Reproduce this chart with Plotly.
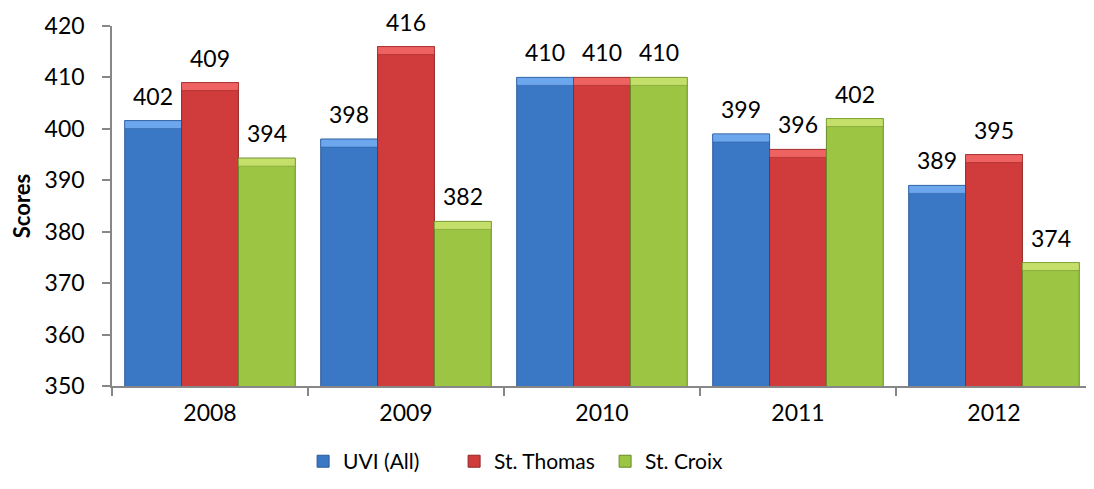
import plotly.graph_objects as go

years = ["2008", "2009", "2010", "2011", "2012"]
uvi_all = [401.6, 398, 410, 399, 389]
st_thomas = [409, 416, 410, 396, 395]
st_croix = [394.3, 382, 410, 402, 374]

series = [
    ("UVI (All)", uvi_all, "#3A77C4", "#6CA6EC", "#2A5A9A"),
    ("St. Thomas", st_thomas, "#D03B3B", "#EE6262", "#942626"),
    ("St. Croix", st_croix, "#9BC542", "#C4E06A", "#6A8A2A"),
]

FONT = "Lato, 'Open Sans', sans-serif"
BEVEL = 1.55  # height of lighter top strip, in axis units (style)

fig = go.Figure()
for i, (name, vals, col, light, edge) in enumerate(series):
    fig.add_trace(go.Bar(
        x=years, y=vals, name=name, offsetgroup=str(i),
        marker=dict(color=col, line=dict(color=edge, width=1)),
    ))
    fig.add_trace(go.Bar(
        x=years, y=[BEVEL] * len(vals), base=[v - BEVEL for v in vals],
        offsetgroup=str(i), showlegend=False, hoverinfo="skip",
        marker=dict(color=light, line=dict(color=edge, width=0.5)),
    ))

# data labels above bars (x given as category index)
n = len(series)
for i, (name, vals, col, light, edge) in enumerate(series):
    for j, v in enumerate(vals):
        fig.add_annotation(
            x=j, y=v, xref="x", yref="y", text=f"{v:.0f}", showarrow=False,
            xshift=(i - (n - 1) / 2) * 56.8, yshift=25,
            font=dict(size=23, family=FONT, color="#000000"),
        )

fig.update_layout(
    width=1086, height=481,
    margin=dict(l=104, r=2, t=18, b=103),
    paper_bgcolor="white", plot_bgcolor="white",
    barmode="group", bargap=0.13, bargroupgap=0,
    font=dict(family=FONT, size=21, color="#000000"),
    showlegend=True,
    legend=dict(orientation="h", x=0.195, xanchor="left", y=-0.153, yanchor="top",
                font=dict(size=21), traceorder="normal", entrywidth=106),
)
fig.update_xaxes(
    type="category", categoryorder="array", categoryarray=years,
    range=[-0.5, len(years) - 0.5],
    automargin=False,
    showline=True, linecolor="#878787", linewidth=1.5,
    ticks="outside", tickson="boundaries", ticklen=8, tickcolor="#878787",
    tickwidth=1.5, ticklabelstandoff=6,
    tickfont=dict(size=23), showgrid=False,
)
fig.update_yaxes(
    automargin=False,
    range=[350, 420], dtick=10, tick0=350,
    showline=True, linecolor="#878787", linewidth=1.5,
    ticks="outside", ticklen=8, tickcolor="#878787", tickwidth=1.5,
    ticklabelstandoff=13,
    tickfont=dict(size=23), showgrid=False, zeroline=False,
    title=dict(text="<b>Scores</b>", font=dict(size=22), standoff=12),
)

fig.write_html("out.html")
